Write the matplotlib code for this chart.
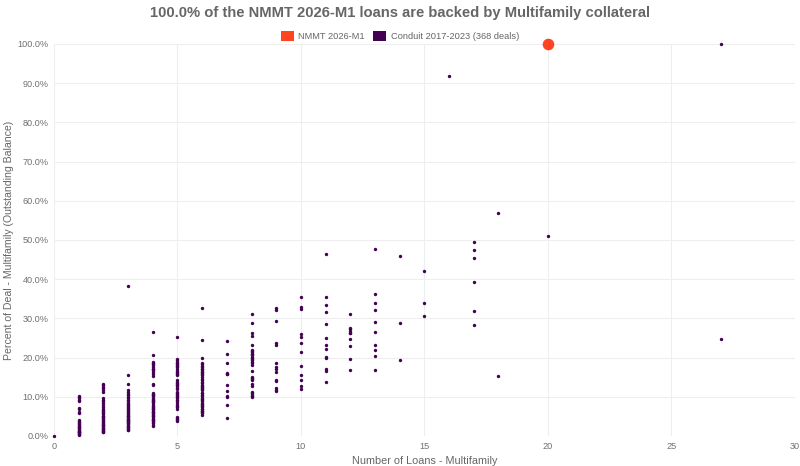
import matplotlib
matplotlib.use("Agg")
import matplotlib.pyplot as plt
from matplotlib.ticker import FuncFormatter, MultipleLocator
from matplotlib.patches import Patch

plt.rcParams['font.family'] = ['Liberation Sans', 'DejaVu Sans']

title = "100.0% of the NMMT 2026-M1 loans are backed by Multifamily collateral"
x_label = "Number of Loans - Multifamily"
y_label = "Percent of Deal - Multifamily (Outstanding Balance)"
series_names = ["NMMT 2026-M1", "Conduit 2017-2023 (368 deals)"]

# Conduit deals: percent values for each number-of-loans value
pct_0 = [0.0]
pct_1 = [10.2, 9.9, 9.6, 9.3, 8.9, 7.2, 7.0, 6.0, 5.8, 4.0, 3.8, 3.5, 3.2, 3.0, 2.8,
         2.6, 2.4, 2.2, 2.0, 1.8, 1.6, 1.4, 1.3, 1.1, 1.0, 0.9, 0.7, 0.6, 0.5, 0.3]
pct_2 = [13.3, 13.0, 12.6, 12.2, 11.7, 11.2, 9.6, 9.2, 8.8, 8.3, 7.8, 7.4, 7.0, 6.7,
         6.4, 6.1, 5.8, 5.5, 5.2, 5.0, 4.8, 4.5, 4.3, 4.0, 3.8, 3.6, 3.3, 3.1, 2.9,
         2.7, 2.5, 2.3, 2.1, 1.9, 1.7, 1.5, 1.3, 1.2, 1.1, 1.0]
pct_3 = [38.2, 15.6, 13.2, 11.7, 11.3, 10.8, 10.4, 10.0, 9.6, 9.2, 8.8, 8.5, 8.2, 7.9,
         7.6, 7.3, 7.0, 6.7, 6.4, 6.1, 5.8, 5.5, 5.2, 5.0, 4.8, 4.6, 4.4, 4.2, 4.0,
         3.8, 3.6, 3.4, 3.2, 3.0, 2.8, 2.6, 2.4, 2.2, 2.0, 1.8, 1.6, 1.5, 5.3, 7.1, 3.7]
pct_4 = [26.5, 20.7, 18.6, 18.3, 18.0, 17.6, 17.2, 16.8, 16.3, 15.8, 15.3, 13.2, 12.9,
         11.0, 10.7, 10.4, 10.1, 9.8, 9.5, 9.2, 8.9, 8.6, 8.3, 8.0, 7.7, 7.4, 7.1,
         6.8, 6.5, 6.2, 5.9, 5.6, 5.3, 5.0, 4.7, 4.4, 4.1, 3.8, 3.5, 3.2, 2.9, 2.6,
         10.5, 9.0, 7.0, 6.0, 5.1, 4.0, 17.0, 18.8]
pct_5 = [25.2, 19.6, 19.3, 19.0, 18.6, 18.2, 17.9, 17.5, 17.1, 16.7, 16.3, 15.9, 15.6,
         14.2, 13.9, 13.5, 13.1, 12.7, 12.3, 11.9, 11.3, 11.0, 10.7, 10.3, 10.0, 9.6,
         9.3, 8.0, 7.6, 7.3, 7.0, 4.9, 4.6, 4.3, 4.0, 3.7, 18.4, 16.0, 13.3, 10.5, 9.0, 8.4]
pct_6 = [32.6, 24.5, 20.0, 18.7, 18.3, 17.9, 17.5, 17.1, 16.7, 16.3, 15.9, 15.6, 13.9,
         13.5, 13.1, 12.7, 12.3, 11.9, 11.7, 10.9, 10.5, 10.1, 9.7, 9.3, 8.9, 8.5, 8.1,
         7.7, 7.3, 6.9, 6.5, 6.1, 5.8, 5.4, 17.0, 16.0, 14.5, 12.5, 11.0, 9.5, 8.0,
         7.0, 6.3, 15.0, 14.2]
pct_7 = [24.2, 20.9, 18.5, 16.0, 15.7, 13.0, 11.6, 10.3, 9.9, 7.9, 4.5, 15.9]
pct_8 = [31.0, 28.7, 26.4, 25.6, 23.2, 22.0, 21.7, 21.3, 21.0, 20.6, 20.2, 19.8, 19.4,
         19.0, 18.6, 18.2, 16.7, 15.0, 14.6, 14.3, 13.3, 12.8, 11.3, 10.9, 10.5, 10.2,
         10.0, 19.6, 20.9, 14.8]
pct_9 = [32.6, 32.1, 29.3, 23.6, 23.1, 18.7, 17.5, 17.0, 16.4, 14.3, 14.0, 12.2, 11.8, 11.4]
pct_10 = [35.4, 32.8, 32.5, 25.9, 25.2, 23.6, 21.3, 17.9, 15.6, 14.3, 12.8, 11.9]
pct_11 = [46.3, 35.4, 33.3, 31.6, 28.6, 24.9, 23.2, 22.2, 20.2, 19.8, 17.0, 16.5, 13.7]
pct_12 = [31.0, 27.6, 27.2, 26.8, 26.4, 26.2, 24.7, 22.9, 19.6, 16.8]
pct_13 = [47.6, 36.2, 33.8, 32.1, 29.0, 26.5, 23.3, 21.9, 20.3, 16.9]
pct_14 = [45.9, 28.7, 19.5]
pct_15 = [42.1, 33.8, 30.6]
pct_16 = [91.8]
pct_17 = [49.6, 47.4, 45.4, 39.2, 31.8, 28.4]
pct_18 = [56.9, 15.3]
pct_20 = [51.1]
pct_27 = [100.0, 24.8]

conduit_groups = {0: pct_0, 1: pct_1, 2: pct_2, 3: pct_3, 4: pct_4, 5: pct_5, 6: pct_6,
                  7: pct_7, 8: pct_8, 9: pct_9, 10: pct_10, 11: pct_11, 12: pct_12,
                  13: pct_13, 14: pct_14, 15: pct_15, 16: pct_16, 17: pct_17,
                  18: pct_18, 20: pct_20, 27: pct_27}

nmmt_loans = [20]
nmmt_pct = [100.0]

x_ticks = [0, 5, 10, 15, 20, 25, 30]

conduit_x = []
conduit_y = []
for n, vals in conduit_groups.items():
    conduit_x.extend([n] * len(vals))
    conduit_y.extend(vals)

orange = "#FF4422"
purple = "#440154"

fig = plt.figure(figsize=(8, 4.66), dpi=100)
ax = fig.add_axes([0.0675, 0.0644, 0.926, 0.8412])

ax.scatter(conduit_x, conduit_y, s=6, color=purple, linewidths=0, zorder=3, clip_on=False)
ax.scatter(nmmt_loans, nmmt_pct, s=70, color=orange, linewidths=0, zorder=4, clip_on=False)

ax.set_xlim(0, 30)
ax.set_ylim(0, 100)
ax.set_xticks(x_ticks)
ax.yaxis.set_major_locator(MultipleLocator(10))
ax.yaxis.set_major_formatter(FuncFormatter(lambda v, p: f"{v:.1f}%"))

ax.grid(True, color="#eeeeee", linewidth=0.8, zorder=0)
ax.set_axisbelow(True)
for s in ax.spines.values():
    s.set_visible(False)
ax.tick_params(length=0, labelsize=6.6, colors="#707070", pad=4)

ax.set_xlabel(x_label, fontsize=7.8, color="#666666", labelpad=4)
ax.set_ylabel(y_label, fontsize=7.6, color="#666666", labelpad=2)

fig.text(0.5, 0.972, title, ha="center", va="center", fontsize=10.6,
         fontweight="bold", color="#666666")

handles = [Patch(facecolor=orange, edgecolor="none"),
           Patch(facecolor=purple, edgecolor="none")]
fig.legend(handles, series_names, loc="center", bbox_to_anchor=(0.5, 0.923), ncol=2,
           frameon=False, fontsize=6.7, handlelength=1.4, handleheight=1.4,
           handletextpad=0.5, columnspacing=0.9, labelcolor="#666666")

fig.savefig("out.png", dpi=100, facecolor="white")
